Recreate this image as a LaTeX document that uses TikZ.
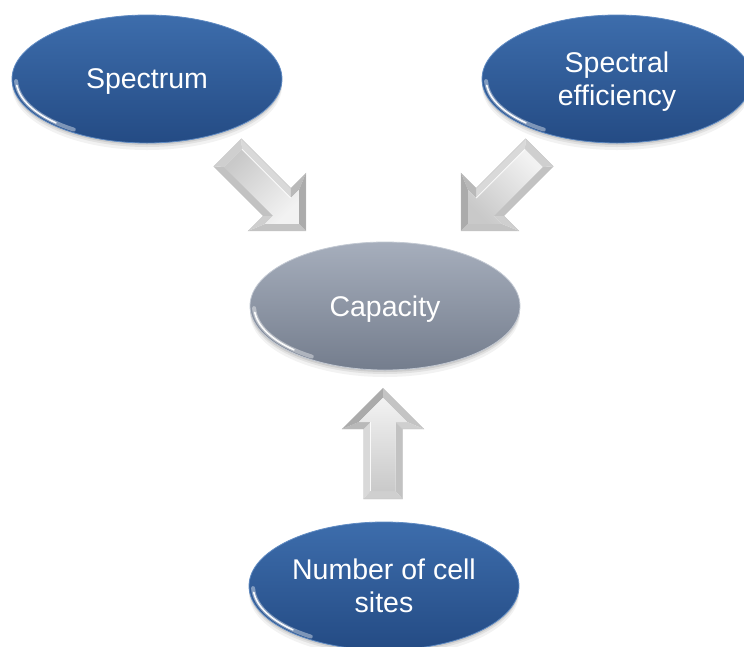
\documentclass[tikz,border=0pt]{standalone}
\usepackage{fontspec}
\setmainfont{Liberation Sans}
\usetikzlibrary{shapes.geometric}

\definecolor{blueTop}{HTML}{3D6DAC}
\definecolor{blueMid}{HTML}{2D5C98}
\definecolor{blueBot}{HTML}{244B84}
\definecolor{blueRim}{HTML}{5F8AC2}
\definecolor{greyTop}{HTML}{A6AEBC}
\definecolor{greyMid}{HTML}{8D96A6}
\definecolor{greyBot}{HTML}{747D8D}
\definecolor{greyRim}{HTML}{C2C8D2}

\tikzset{
  oval/.style={ellipse, minimum width=270pt, minimum height=128pt, inner sep=0pt,
    text depth=0pt, text=white, align=center, font=\fontsize{28.5pt}{33pt}\selectfont,
    preaction={fill=black, opacity=0.05, transform canvas={yshift=-7pt}},
    preaction={fill=black, opacity=0.07, transform canvas={yshift=-4pt}},
    preaction={fill=black, opacity=0.09, transform canvas={yshift=-2pt}}},
  blueoval/.style={oval, top color=blueTop, middle color=blueMid, bottom color=blueBot,
    draw=blueRim, line width=0.8pt},
  greyoval/.style={oval, top color=greyTop, middle color=greyMid, bottom color=greyBot,
    draw=greyRim, line width=0.8pt},
  shinewide/.style={white, opacity=0.4, line width=4pt, line cap=round},
  shinethin/.style={white, opacity=0.95, line width=1.6pt, line cap=round},
  % bevelled block arrow, drawn along +x from its tail centre;
  % the argument is the shading angle that lights the upper bevel side
  pics/bevelarrow/.style={code={
    \fill[gray!30] (0pt,19.5pt) -- (70pt,19.5pt) -- (77pt,12.5pt) -- (8pt,12.5pt) -- cycle;
    \fill[gray!55] (70pt,19.5pt) -- (70pt,41pt) -- (77pt,24.1pt) -- (77pt,12.5pt) -- cycle;
    \fill[gray!66] (70pt,41pt) -- (111pt,0pt) -- (101.1pt,0pt) -- (77pt,24.1pt) -- cycle;
    \fill[gray!46] (111pt,0pt) -- (70pt,-41pt) -- (77pt,-24.1pt) -- (101.1pt,0pt) -- cycle;
    \fill[gray!38] (70pt,-41pt) -- (70pt,-19.5pt) -- (77pt,-12.5pt) -- (77pt,-24.1pt) -- cycle;
    \fill[gray!48] (70pt,-19.5pt) -- (0pt,-19.5pt) -- (8pt,-12.5pt) -- (77pt,-12.5pt) -- cycle;
    \fill[gray!38] (0pt,-19.5pt) -- (0pt,19.5pt) -- (8pt,12.5pt) -- (8pt,-12.5pt) -- cycle;
    \shade[left color=gray!42, right color=gray!10, shading angle=#1]
      (8pt,12.5pt) -- (77pt,12.5pt) -- (77pt,24.1pt) -- (101.1pt,0pt)
      -- (77pt,-24.1pt) -- (77pt,-12.5pt) -- (8pt,-12.5pt) -- cycle;
    \draw[white, opacity=0.85, line width=0.9pt] (8pt,12.5pt) -- (77pt,12.5pt);
    \draw[gray!50, line width=0.3pt] (0pt,19.5pt) -- (70pt,19.5pt) -- (70pt,41pt) -- (111pt,0pt)
      -- (70pt,-41pt) -- (70pt,-19.5pt) -- (0pt,-19.5pt) -- cycle;
  }}
}

\begin{document}
\begin{tikzpicture}[x=1pt, y=-1pt]
  \useasboundingbox (0,0) rectangle (744,646);
  \clip (0,0) rectangle (744,646);

  % the four ovals
  \node[blueoval] (spec)  at (147,79)  {Spectrum};
  \node[blueoval] (eff)   at (617,79)  {Spectral\\efficiency};
  \node[greyoval] (cap)   at (385,306) {Capacity};
  \node[blueoval] (cells) at (384,586) {Number of cell\\sites};

  % glossy highlight along the lower left rim of each oval
  \foreach \n in {spec,eff,cap,cells} {
    \draw[shinewide] ([shift={(\n.center)}]182:131pt and 61pt)
      arc[start angle=182, end angle=236, x radius=131pt, y radius=61pt];
    \draw[shinethin] ([shift={(\n.center)}]186:131pt and 61pt)
      arc[start angle=186, end angle=226, x radius=131pt, y radius=61pt];
  }

  % block arrows pointing at the capacity oval
  \pic[rotate=-45] at (227.5,152.5) {bevelarrow=45};
  \pic[rotate=-135, yscale=-1] at (539.5,152.5) {bevelarrow=135};
  \pic[rotate=90] at (383,499) {bevelarrow=180};
\end{tikzpicture}
\end{document}
